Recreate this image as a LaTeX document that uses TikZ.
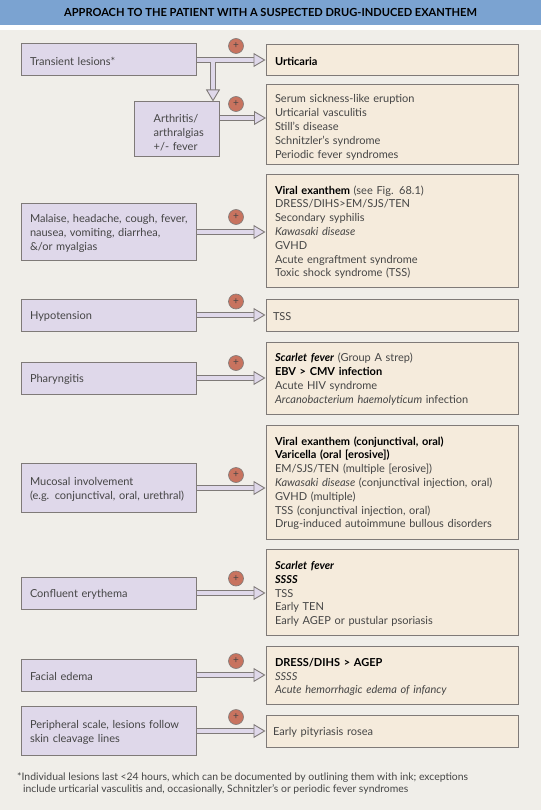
\documentclass[tikz,border=0pt]{standalone}
\usepackage{fontspec}
\setmainfont{Lato}
\usepackage{xcolor}
\usetikzlibrary{arrows.meta}
\definecolor{pagebg}{HTML}{F0EEE9}
\definecolor{headbg}{HTML}{7BA3D1}
\definecolor{lilac}{HTML}{DFD8EA}
\definecolor{cream}{HTML}{F5EBDC}
\definecolor{edgegray}{HTML}{7F7A78}
\definecolor{plusred}{HTML}{C8735F}
\definecolor{textgray}{HTML}{454545}
\newcommand{\keyitem}[1]{\textcolor{black}{\textbf{#1}}}
\begin{document}
\begin{tikzpicture}[x=1pt,y=-1pt,font=\fontsize{11}{13.8}\selectfont,text=textgray]
    \tikzstyle{symptom}=[shape=rectangle,draw=edgegray,line width=1pt,fill=lilac,minimum width=175pt,inner sep=0pt,inner xsep=9pt,text width=157pt,align=left,execute at begin node={\rule{0pt}{11pt}}]
    \tikzstyle{result}=[shape=rectangle,draw=edgegray,line width=1pt,fill=cream,minimum width=252pt,inner sep=0pt,inner xsep=9pt,text width=234pt,align=left,execute at begin node={\rule{0pt}{11pt}}]
    \tikzstyle{plus}=[shape=circle,draw=edgegray,fill=plusred,line width=.6pt,minimum size=15pt,inner sep=0pt,font=\fontsize{10}{10}\selectfont]
    \tikzstyle{flow}=[draw=edgegray,line width=.9pt,double=lilac,double distance=4.2pt,-{Triangle[open,length=12pt,width=14pt,fill=lilac]}]

    \useasboundingbox[fill=pagebg] (0,0) rectangle (541,810);
    \fill[white] (0,25) rectangle (541,30);
    \node[fill=headbg,minimum width=541pt,minimum height=25pt,inner sep=0pt,text=black,font=\fontsize{11.1}{12}\selectfont\bfseries] (Title) at (270.5,12.5) {APPROACH TO THE PATIENT WITH A SUSPECTED DRUG-INDUCED EXANTHEM};

    \node[symptom,minimum height=32pt] (Transient) at (108.5,60) {Transient lesions*};
    \node[symptom,minimum width=85.5pt,text width=47pt,minimum height=55pt,inner xsep=19pt] (Arthritis) at (177.2,129.5) {\rule{0pt}{14pt}Arthritis/\\arthralgias\\+/- fever};
    \node[symptom,minimum height=57pt] (Malaise) at (108.5,232) {\mbox{Malaise, headache, cough, fever,}\\nausea, vomiting, diarrhea,\\\&/or myalgias};
    \node[symptom,minimum height=32pt] (Hypotension) at (108.5,315) {Hypotension};
    \node[symptom,minimum height=32pt] (Pharyngitis) at (108.5,378) {Pharyngitis};
    \node[symptom,minimum height=49pt] (Mucosal) at (108.5,488) {Mucosal involvement\\(e.g. conjunctival, oral, urethral)};
    \node[symptom,minimum height=32pt] (Confluent) at (108.5,593) {Confluent erythema};
    \node[symptom,minimum height=32pt] (Facial) at (108.5,675) {Facial edema};
    \node[symptom,minimum height=49pt] (Peripheral) at (108.5,731) {Peripheral scale, lesions follow\\skin cleavage lines};

    \node[result,minimum height=31pt] (Urticaria) at (392,60) {\keyitem{Urticaria}};
    \node[result,minimum height=80pt] (Serum) at (392,125) {\rule{0pt}{13pt}Serum sickness-like eruption\\Urticarial vasculitis\\Still's disease\\Schnitzler's syndrome\\Periodic fever syndromes};
    \node[result,minimum height=112pt] (Viral) at (392,231) {\keyitem{Viral exanthem} (see Fig. 68.1)\\DRESS/DIHS{>}EM/SJS/TEN\\Secondary syphilis\\\textit{Kawasaki disease}\\GVHD\\Acute engraftment syndrome\\Toxic shock syndrome (TSS)};
    \node[result,minimum height=32pt] (TSS) at (392,315) {\hspace*{-2pt}TSS};
    \node[result,minimum height=72pt] (Scarlet) at (392,378) {\keyitem{\textit{Scarlet fever}} (Group A strep)\\\keyitem{EBV > CMV infection}\\Acute HIV syndrome\\\textit{Arcanobacterium haemolyticum} infection};
    \node[result,minimum height=114pt] (Exanthem) at (392,482) {\keyitem{Viral exanthem (conjunctival, oral)}\\\keyitem{Varicella (oral [erosive])}\\EM/SJS/TEN (multiple [erosive])\\\textit{Kawasaki disease} (conjunctival injection, oral)\\GVHD (multiple)\\TSS (conjunctival injection, oral)\\Drug-induced autoimmune bullous disorders};
    \node[result,minimum height=86pt] (Erythema) at (392,592.5) {\keyitem{\textit{Scarlet fever}}\\\keyitem{\textit{SSSS}}\\TSS\\Early TEN\\Early AGEP or pustular psoriasis};
    \node[result,minimum height=58pt] (Dress) at (392,675.5) {\keyitem{DRESS/DIHS > AGEP}\\\textit{SSSS}\\\textit{Acute hemorrhagic edema of infancy}};
    \node[result,minimum height=32pt] (Rosea) at (392,731) {\hspace*{-2pt}Early pityriasis rosea};

    \node[plus] (P1) at (236,46) {+};
    \node[plus] (P2) at (236,104) {+};
    \node[plus] (P3) at (236,217) {+};
    \node[plus] (P4) at (236,301.5) {+};
    \node[plus] (P5) at (236,363) {+};
    \node[plus] (P6) at (236,475) {+};
    \node[plus] (P7) at (236,578.5) {+};
    \node[plus] (P8) at (236,661) {+};
    \node[plus] (P9) at (236,717) {+};

    \coordinate (Branch) at (213,60);
    \coordinate (SerumIn) at (266,118);

    \draw[flow] (Branch) -- (Branch |- Arthritis.north);
    \path[every edge/.style={flow}]
    (Transient.east) edge (Urticaria.west)
    (Arthritis.east |- SerumIn) edge (SerumIn)
    (Malaise.east) edge (Malaise.east -| Viral.west)
    (Hypotension.east) edge (TSS.west)
    (Pharyngitis.east) edge (Pharyngitis.east -| Scarlet.west)
    (Mucosal.east) edge (Mucosal.east -| Exanthem.west)
    (Confluent.east) edge (Confluent.east -| Erythema.west)
    (Facial.east) edge (Facial.east -| Dress.west)
    (Peripheral.east) edge (Rosea.west)
   ;
    \fill[lilac] ([xshift=-2.1pt,yshift=1pt]Branch) rectangle ([xshift=2.1pt,yshift=-4.5pt]Branch);

    \node[anchor=north west,inner sep=0pt,align=left,font=\fontsize{10.4}{12.7}\selectfont] (Footnote) at (17,772) {*Individual lesions last <24 hours, which can be documented by outlining them with ink; exceptions\\\hspace*{6pt}include urticarial vasculitis and, occasionally, Schnitzler's or periodic fever syndromes};
\end{tikzpicture}
\end{document}
